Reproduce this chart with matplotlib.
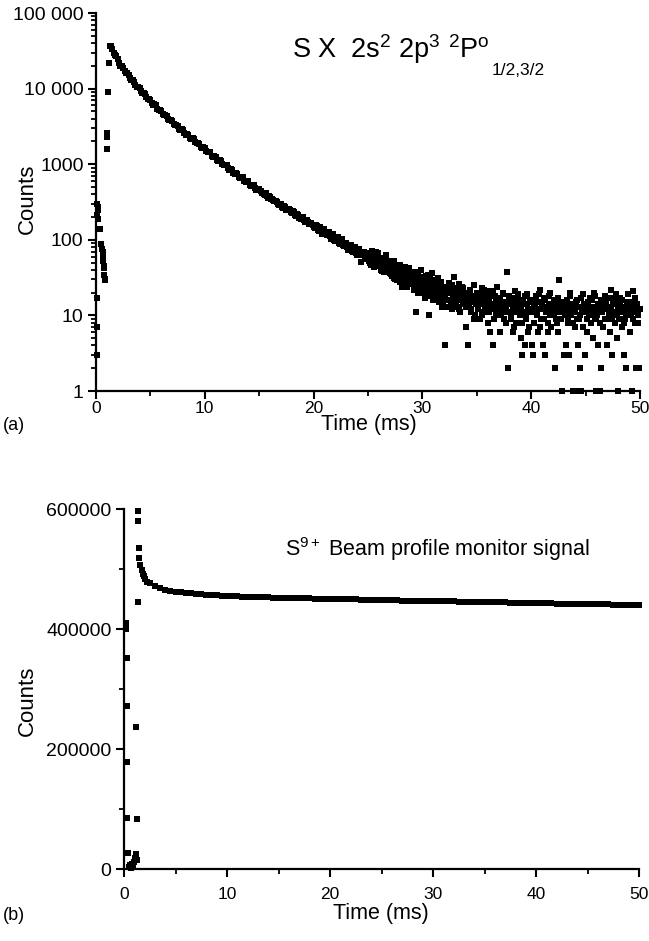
import numpy as np
import matplotlib
matplotlib.use("Agg")
import matplotlib.pyplot as plt
from matplotlib.ticker import FixedLocator, FixedFormatter

plt.rcParams['font.family'] = ['Liberation Sans', 'DejaVu Sans']
plt.rcParams['mathtext.fontset'] = 'custom'
plt.rcParams['mathtext.rm'] = 'Liberation Sans'
plt.rcParams['mathtext.it'] = 'Liberation Sans:italic'

# ---- panel (a): S X decay curve, counts vs time (ms) ----
a_early_t = [0.05, 0.05, 0.05, 0.1, 0.1, 0.15, 0.15, 0.2, 0.4, 0.5, 0.55, 0.6, 0.6, 0.65,
             0.7, 0.7, 0.75, 0.8, 0.85, 1.0, 1.0, 1.05, 1.1, 1.2]
a_early_c = [3, 7, 17, 210, 300, 250, 190, 270, 140, 88, 75, 60, 52, 68,
             45, 42, 34, 30, 29, 1600, 2300, 2600, 9000, 22000]

# 0.25 ms channels, 1.25 .. 15.0 ms
a_main_c = [37000, 33600, 27700, 24500, 20000, 18700, 16000, 15200,
            13000, 12300, 10600, 10200, 8800, 8400, 7300, 7050,
            6150, 5980, 5250, 5080, 4460, 4350, 3830, 3730,
            3290, 3230, 2840, 2800, 2470, 2440, 2150, 2130,
            1880, 1860, 1640, 1640, 1440, 1430, 1260, 1250,
            1100, 1100, 965, 965, 850, 850, 750, 752,
            660, 668, 585, 592, 518, 525, 460, 467]
a_main_t = np.linspace(1.25, 15.0, len(a_main_c))

# interleaved channels, 1.375 .. 14.875 ms
a_main2_c = [36200, 29800, 26600, 21600, 19800, 16900, 15900,
             13700, 12900, 11100, 10600, 9200, 8800, 7650, 7350,
             6420, 6220, 5450, 5290, 4640, 4520, 3980, 3870,
             3420, 3340, 2950, 2890, 2560, 2510, 2230, 2190,
             1950, 1920, 1700, 1680, 1490, 1470, 1300, 1290,
             1140, 1130, 1000, 990, 880, 872, 776, 770,
             686, 680, 607, 603, 538, 535, 478, 477]
a_main2_t = np.linspace(1.375, 14.875, len(a_main2_c))

# 0.2 ms channels, 15.2 .. 25.0 ms
a_mid_c = [445, 398, 412, 362, 371, 348, 322, 318, 292, 301,
           262, 275, 251, 246, 228, 236, 205, 214, 188, 199,
           172, 185, 160, 168, 149, 158, 136, 148, 121, 138,
           114, 127, 104, 118, 96, 110, 88, 101, 83, 92,
           74, 86, 69, 80, 63, 75, 51, 68, 58, 64]
a_mid_t = np.linspace(15.2, 25.0, len(a_mid_c))

# interleaved channels, 15.3 .. 24.9 ms
a_mid2_c = [420, 392, 378, 375, 345, 340, 326, 296, 300, 270,
            282, 248, 259, 230, 238, 212, 220, 195, 203, 182,
            176, 171, 162, 158, 142, 151, 130, 138, 126, 122,
            118, 112, 115, 100, 105, 92, 97, 86, 90, 80,
            84, 72, 78, 66, 71, 62, 66, 55, 60]
a_mid2_t = np.linspace(15.3, 24.9, len(a_mid2_c))

# 0.1 ms channels, 25.1 .. 50.0 ms
a_tail_c = [64, 49, 58, 71, 52, 45, 60, 55, 67, 48,
            51, 40, 57, 44, 38, 49, 62, 42, 47, 36,
            44, 33, 41, 52, 30, 37, 46, 35, 28, 40,
            24, 38, 31, 44, 27, 35, 29, 40, 26, 33,
            31, 23, 37, 11, 26, 34, 21, 29, 40, 25,
            20, 28, 33, 18, 25, 10, 30, 22, 36, 19,
            26, 17, 23, 31, 15, 21, 28, 13, 24, 19,
            4, 22, 16, 27, 20, 14, 25, 18, 32, 15,
            21, 13, 19, 26, 11, 17, 23, 15, 20, 7,
            18, 4, 14, 22, 12, 17, 25, 10, 16, 20,
            13, 19, 9, 15, 23, 11, 17, 14, 21, 8,
            16, 6, 12, 20, 4, 14, 18, 10, 24, 13,
            6, 15, 11, 19, 9, 14, 12, 38, 2, 17,
            10, 16, 6, 13, 21, 8, 12, 18, 11, 15,
            5, 3, 14, 4, 9, 19, 12, 7, 16, 11,
            4, 3, 13, 18, 10, 6, 15, 22, 9, 12,
            4, 17, 3, 11, 8, 14, 20, 7, 13, 10,
            16, 2, 9, 12, 6, 29, 15, 1, 11, 3,
            3, 4, 14, 8, 3, 18, 10, 1, 13, 7,
            1, 16, 4, 9, 2, 1, 12, 19, 3, 11,
            6, 14, 10, 17, 8, 13, 5, 20, 9, 1,
            4, 11, 1, 2, 15, 7, 12, 18, 9, 4,
            13, 6, 22, 3, 10, 16, 8, 14, 5, 1,
            11, 17, 7, 12, 3, 9, 2, 15, 19, 10,
            6, 13, 1, 21, 8, 2, 14, 10, 2, 12]
a_tail_t = np.linspace(25.1, 50.0, len(a_tail_c))

# interleaved channels, 25.05 .. 49.95 ms
a_tail2_c = [53, 66, 47, 59, 62, 44, 57, 69, 50, 54,
             45, 55, 39, 50, 43, 58, 41, 46, 53, 37,
             42, 35, 48, 31, 39, 44, 29, 41, 36, 47,
             30, 36, 27, 39, 33, 24, 35, 42, 28, 31,
             27, 33, 22, 30, 36, 20, 28, 24, 32, 26,
             23, 30, 17, 26, 21, 34, 19, 27, 24, 16,
             20, 25, 29, 16, 22, 18, 27, 23, 14, 21,
             17, 24, 13, 20, 26, 16, 21, 12, 19, 23,
             15, 22, 18, 12, 20, 16, 24, 14, 19, 17,
             13, 19, 16, 21, 11, 15, 18, 9, 17, 14,
             17, 12, 20, 14, 10, 16, 22, 13, 18, 11,
             15, 11, 18, 13, 21, 9, 14, 17, 12, 16,
             12, 17, 10, 14, 20, 13, 8, 15, 11, 18,
             14, 9, 17, 12, 7, 15, 11, 19, 13, 10,
             13, 8, 16, 11, 18, 10, 14, 6, 12, 15,
             11, 15, 8, 13, 17, 10, 12, 19, 7, 14,
             12, 9, 16, 11, 13, 6, 18, 10, 14, 12,
             10, 14, 12, 8, 17, 11, 13, 9, 15, 12,
             13, 10, 16, 9, 12, 20, 11, 14, 8, 12,
             11, 15, 9, 13, 10, 17, 12, 7, 14, 11,
             12, 9, 15, 11, 13, 16, 10, 12, 18, 9,
             10, 14, 12, 8, 16, 11, 13, 9, 15, 12,
             13, 10, 17, 12, 9, 14, 11, 19, 10, 13,
             9, 14, 11, 16, 12, 8, 13, 10, 15, 12,
             12, 10, 15, 9, 13, 17, 11, 14, 8, 12]
a_tail2_t = np.linspace(25.05, 49.95, len(a_tail2_c))

a_yticks = [1, 10, 100, 1000, 10000, 100000]
a_ylabels = ['1', '10', '100', '1000', '10 000', '100 000']

# ---- panel (b): beam profile monitor ----
b_early_t = [0.15, 0.2, 0.25, 0.25, 0.3, 0.3, 0.35, 0.45, 0.55, 0.65, 0.75, 0.85, 0.95,
             1.05, 1.15, 1.2, 1.25, 1.3, 1.35, 1.35, 1.4, 1.45]
b_early_c = [410000, 400000, 352000, 272000, 178000, 85000, 27000, 3000, 6000, 2000, 8000,
             4000, 12000, 18000, 25000, 237000, 15000, 83000, 445000, 597000, 580000, 535000]

b_head_t = [1.5, 1.6, 1.7, 1.8, 1.9, 2.0, 2.25]
b_head_c = [518000, 506000, 498000, 492000, 488000, 484000, 479000]

# 0.5 ms channels, 2.5 .. 50.0 ms
b_main_c = [476000, 471000, 468000, 465500, 464000, 462500, 461200, 460200, 459300, 458500,
            457800, 457100, 456500, 456000, 455500, 455000, 454600, 454200, 453800, 453400,
            453200, 453000, 452800, 452600, 452400, 452200, 452000, 451800, 451600, 451400,
            451200, 451000, 450800, 450600, 450400, 450200, 450000, 449800, 449600, 449400,
            449200, 449000, 448800, 448600, 448400, 448200,
            448000, 447900, 447700, 447500, 447400, 447200, 447000, 446900, 446700, 446500,
            446400, 446200, 446000, 445900, 445700, 445500, 445400, 445200, 445000, 444900,
            444700, 444500, 444400, 444200, 444000, 443900, 443700, 443500, 443400, 443200,
            443000, 442900, 442700, 442500, 442400, 442200, 442000, 441900, 441700, 441500,
            441400, 441200, 441000, 440900, 440700, 440500, 440400, 440200, 440000, 439900]
b_main_t = np.linspace(2.5, 50.0, len(b_main_c))

b_yticks = [0, 200000, 400000, 600000]
b_ylabels = ['0', '200000', '400000', '600000']

xticks = [0, 10, 20, 30, 40, 50]

W, H = 649, 941
fig = plt.figure(figsize=(W / 100, H / 100), dpi=100)


def style(ax, xpad):
    for s in ['top', 'right']:
        ax.spines[s].set_visible(False)
    for s in ['left', 'bottom']:
        ax.spines[s].set_linewidth(1.6)
    ax.tick_params(which='major', direction='out', length=6, width=1.5, labelsize=14, pad=3)
    ax.tick_params(which='minor', direction='out', length=3.5, width=1.3)
    ax.tick_params(axis='x', which='major', pad=xpad, labelsize=12.5)
    ax.set_xlim(0, 50)
    ax.xaxis.set_major_locator(FixedLocator(xticks))
    ax.xaxis.set_minor_locator(FixedLocator([5, 15, 25, 35, 45]))


# top panel
ax1 = fig.add_axes([96 / W, 1 - 391 / H, 544 / W, 378 / H])
mk = dict(marker='s', ls='none', color='k', ms=3.7, mew=0, clip_on=False)
band = dict(mk, ms=4.3)
ax1.plot(a_early_t, a_early_c, **mk)
ax1.plot(a_main_t, a_main_c, **band)
ax1.plot(a_main2_t, a_main2_c, **band)
ax1.plot(a_mid_t, a_mid_c, **band)
ax1.plot(a_mid2_t, a_mid2_c, **band)
ax1.plot(a_tail_t, a_tail_c, **mk)
ax1.plot(a_tail2_t, a_tail2_c, **mk)
ax1.set_yscale('log')
ax1.set_ylim(1, 100000)
style(ax1, 1)
ax1.yaxis.set_major_locator(FixedLocator(a_yticks))
ax1.yaxis.set_major_formatter(FixedFormatter(a_ylabels))
minors = [m * 10 ** k for k in range(5) for m in range(2, 10)]
ax1.yaxis.set_minor_locator(FixedLocator(minors))
ax1.yaxis.set_minor_formatter(FixedFormatter([''] * len(minors)))

# bottom panel
ax2 = fig.add_axes([124 / W, 1 - 869 / H, 515 / W, 360 / H])
ax2.plot(b_early_t, b_early_c, **mk)
ax2.plot(b_head_t, b_head_c, **dict(mk, ms=4.8))
ax2.plot(b_main_t, b_main_c, **dict(mk, ms=4.8))
ax2.set_ylim(0, 600000)
style(ax2, 7)
ax2.yaxis.set_major_locator(FixedLocator(b_yticks))
ax2.yaxis.set_major_formatter(FixedFormatter(b_ylabels))
ax2.yaxis.set_minor_locator(FixedLocator([100000, 300000, 500000]))

# panel titles
t1 = fig.text(292 / W, 1 - 58 / H, r'S X  2s$^2$ 2p$^3$ $^2$P$^\mathrm{o}$',
              fontsize=19.5, va='baseline')
r = fig.canvas.get_renderer()
bb = t1.get_window_extent(renderer=r)
fig.text(bb.x1 / W + 2 / W, 1 - 75 / H, '1/2,3/2', fontsize=12.5, va='baseline')
fig.text(285 / W, 1 - 556 / H, r'S$^{9+}$ Beam profile monitor signal',
         fontsize=15.5, va='baseline')

# axis titles and panel tags
fig.text(27 / W, 1 - 199 / H, 'Counts', rotation=90, ha='center', va='center', fontsize=16)
fig.text(27 / W, 1 - 701 / H, 'Counts', rotation=90, ha='center', va='center', fontsize=16)
fig.text(369 / W, 1 - 424 / H, 'Time (ms)', ha='center', va='center', fontsize=15.5)
fig.text(381 / W, 1 - 914 / H, 'Time (ms)', ha='center', va='center', fontsize=15.5)
fig.text(3 / W, 1 - 426 / H, '(a)', ha='left', va='center', fontsize=13)
fig.text(3 / W, 1 - 916 / H, '(b)', ha='left', va='center', fontsize=13)

fig.savefig('out.png', dpi=100)
